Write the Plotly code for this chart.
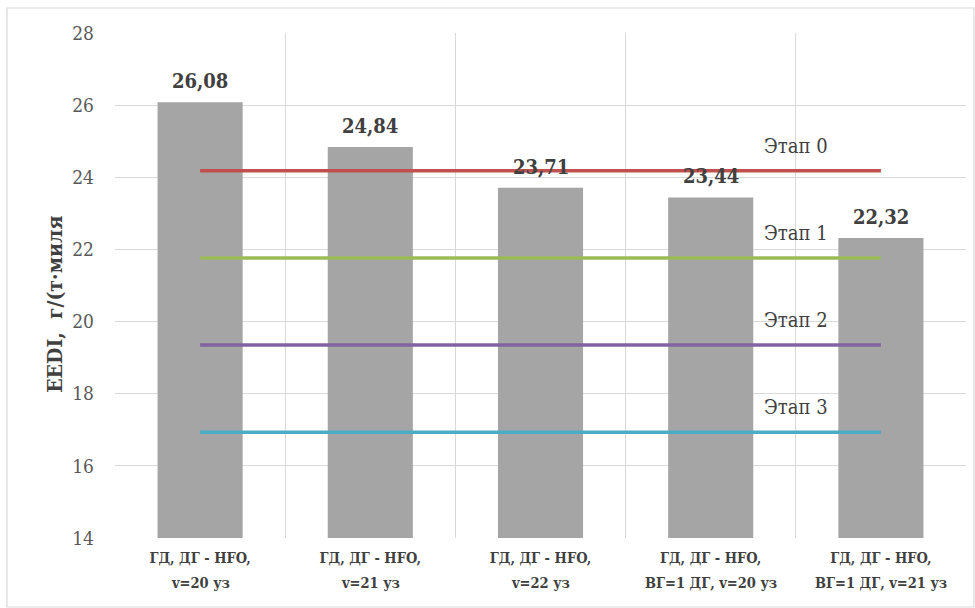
import plotly.graph_objects as go

# Variants of power plant configuration (two-row labels)
categories_row1 = [
    "ГД, ДГ - HFO,",
    "ГД, ДГ - HFO,",
    "ГД, ДГ - HFO,",
    "ГД, ДГ - HFO,",
    "ГД, ДГ - HFO,",
]
categories_row2 = [
    "v=20 уз",
    "v=21 уз",
    "v=22 уз",
    "ВГ=1 ДГ, v=20 уз",
    "ВГ=1 ДГ, v=21 уз",
]
eedi_values = [26.08, 24.84, 23.71, 23.44, 22.32]

# Required EEDI levels by stage
stage_names = ["Этап 0", "Этап 1", "Этап 2", "Этап 3"]
stage_values = [24.18, 21.76, 19.35, 16.93]
stage_colors = ["#c0504d", "#9bbb59", "#8064a2", "#4bacc6"]

serif = "DejaVu Serif Condensed, DejaVu Serif, serif"
x_pos = list(range(len(eedi_values)))

fig = go.Figure()
fig.add_trace(go.Bar(
    x=x_pos, y=eedi_values, width=0.5, xaxis="x2",
    marker=dict(color="#a5a5a5", line=dict(width=0)),
    showlegend=False, hoverinfo="y",
))

for name, val, col in zip(stage_names, stage_values, stage_colors):
    fig.add_trace(go.Scatter(
        x=x_pos, y=[val] * len(x_pos), mode="lines", xaxis="x2",
        line=dict(color=col, width=3.5), name=name, showlegend=False,
    ))
    fig.add_annotation(
        x=3.5, y=val, text=name, showarrow=False, yshift=25,
        font=dict(family=serif, size=20, color="#404040"),
    )

for i, v in enumerate(eedi_values):
    fig.add_annotation(
        x=i, y=v, text="<b>" + f"{v:.2f}".replace(".", ",") + "</b>",
        showarrow=False, yshift=21,
        font=dict(family=serif, size=20, color="#404040"),
    )

cat_font = dict(family=serif, size=14.5, color="#404040")

# Second row of category labels
for i, lab in enumerate(categories_row2):
    fig.add_annotation(
        x=i, xref="x", yref="paper", y=-0.0891, yanchor="middle",
        text="<b>" + lab + "</b>", showarrow=False, font=cat_font,
    )

# Y axis title
fig.add_annotation(
    xref="paper", yref="paper", x=-0.088, y=0.463,
    text="<b>EEDI,  г/(т·миля</b>", textangle=-90, showarrow=False,
    font=dict(family=serif, size=21, color="#404040"),
)

# Chart frame
fig.add_shape(
    type="rect", xref="paper", yref="paper",
    x0=-0.1269, x1=1.0094, y0=-0.1366, y1=1.0495,
    line=dict(color="#d9d9d9", width=1.2), fillcolor="rgba(0,0,0,0)", layer="below",
)

fig.update_layout(
    width=975, height=608,
    margin=dict(l=115, r=9, t=33, b=70),
    paper_bgcolor="white", plot_bgcolor="white",
    font=dict(family=serif),
    xaxis=dict(
        range=[-0.5, 4.5], tickvals=[-0.5, 0.5, 1.5, 2.5, 3.5, 4.5],
        ticktext=[""] * 6, showgrid=True, gridcolor="#d9d9d9", gridwidth=1.3,
        zeroline=False, showline=False, ticks="",
    ),
    xaxis2=dict(
        overlaying="x", matches="x", side="bottom", range=[-0.5, 4.5],
        tickvals=x_pos, ticktext=["<b>" + c + "</b>" for c in categories_row1],
        showgrid=False, zeroline=False, ticks="", ticklabelstandoff=9,
        tickfont=cat_font,
    ),
    yaxis=dict(
        range=[14, 28], dtick=2, showgrid=True, gridcolor="#d9d9d9", gridwidth=1.3,
        zeroline=False, showline=False, ticks="", ticklabelstandoff=20,
        tickfont=dict(family=serif, size=19, color="#595959"),
    ),
    bargap=0.5,
)

fig.write_html("out.html")
